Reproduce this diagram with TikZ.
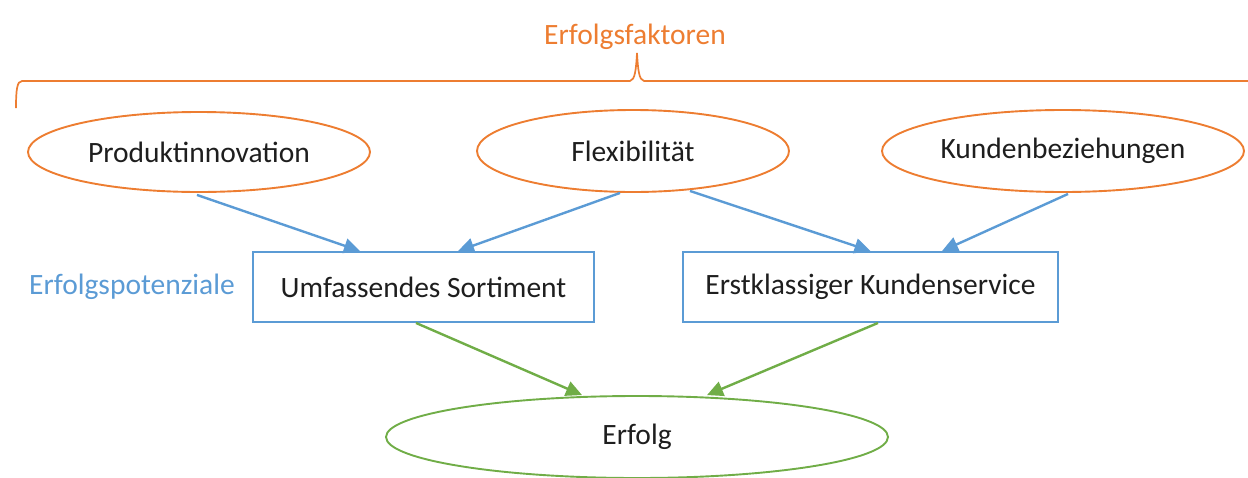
\documentclass[tikz,border=0pt]{standalone}
\usepackage{fontspec}
\setmainfont{Carlito}
\usetikzlibrary{arrows.meta,shapes.geometric}
\definecolor{accorange}{HTML}{ED7D31}
\definecolor{accblue}{HTML}{5B9BD5}
\definecolor{accgreen}{HTML}{70AD47}
\definecolor{txt}{HTML}{1E1E1E}
\begin{document}
\begin{tikzpicture}[x=1pt,y=-1pt,
  big/.style={font=\fontsize{29.5}{34}\selectfont},
  lbl/.style={big, text=txt},
  factor/.style={ellipse, draw=accorange, line width=1.9pt, inner sep=0pt, lbl},
  potential/.style={rectangle, draw=accblue, line width=1.9pt, inner sep=0pt, lbl},
  goal/.style={ellipse, draw=accgreen, line width=1.9pt, inner sep=0pt, lbl},
  bluearrow/.style={draw=accblue, line width=2.4pt, -{Triangle[length=16pt,width=15pt]}},
  greenarrow/.style={draw=accgreen, line width=2.4pt, -{Triangle[length=16pt,width=15pt]}}]
\useasboundingbox (0,0) rectangle (1248,477);
\clip (0,0) rectangle (1248,477);

% heading and brace over the success factors
\node[big, text=accorange] (head) at (635,37) {Erfolgsfaktoren};
\draw[accorange, line width=1.7pt] (16,108) .. controls (16,90) and (17,81) .. (22,81)
  -- (630,81) .. controls (635,80) and (636,70) .. (637,53)
  .. controls (638,70) and (639,80) .. (644,81) -- (1250,81);

% success factors
\node[factor, minimum width=342pt, minimum height=80pt] (prod) at (199,152) {Produktinnovation};
\node[factor, minimum width=312pt, minimum height=82pt] (flex) at (633,151) {Flexibilität};
\node[factor, minimum width=362pt, minimum height=82pt] (kund) at (1063,151) {Kundenbeziehungen};

% success potentials
\node[big, text=accblue] (potlbl) at (132,287) {Erfolgspotenziale};
\node[potential, minimum width=341pt, minimum height=70pt] (sort) at (423.5,287) {Umfassendes Sortiment};
\node[potential, minimum width=375pt, minimum height=70pt] (serv) at (870.5,287) {Erstklassiger Kundenservice};

% success
\node[goal, minimum width=502pt, minimum height=82pt] (erf) at (637,437) {Erfolg};

% connectors: factors to potentials
\draw[bluearrow] ([xshift=-2pt,yshift=-2pt]prod.south) -- ([xshift=-63.5pt]sort.north);
\draw[bluearrow] ([xshift=-13pt]flex.south) -- ([xshift=34.5pt]sort.north);
\draw[bluearrow] ([xshift=57pt,yshift=2pt]flex.south) -- ([xshift=0pt]serv.north);
\draw[bluearrow] ([xshift=5pt,yshift=-1pt]kund.south) -- ([xshift=71.5pt]serv.north);
% connectors: potentials to success
\draw[greenarrow] ([xshift=-7.5pt]sort.south) -- ([xshift=-55pt]erf.north);
\draw[greenarrow] ([xshift=7.5pt]serv.south) -- ([xshift=70pt]erf.north);
\end{tikzpicture}
\end{document}
